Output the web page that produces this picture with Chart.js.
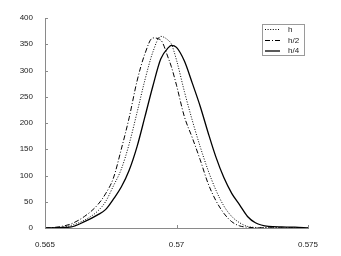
<!DOCTYPE html>
<html>
<head>
<meta charset="utf-8">
<script src="https://cdn.jsdelivr.net/npm/chart.js@4.4.1/dist/chart.umd.min.js"></script>
<style>
  html, body { margin: 0; padding: 0; background: #fff; }
  #wrap { width: 341px; height: 256px; }
</style>
</head>
<body>
<div id="wrap"><canvas id="densityChart" width="341" height="256"></canvas></div>
<script>
// ---- data ----
const xs = [0.565, 0.5655, 0.566, 0.5665, 0.567, 0.5673, 0.5676, 0.5679, 0.5682, 0.5685,
            0.5688, 0.5691, 0.5694, 0.5697, 0.5698, 0.57, 0.5703, 0.5706, 0.5709, 0.5712,
            0.5715, 0.5718, 0.5721, 0.5724, 0.5727, 0.573, 0.5735, 0.574, 0.5745, 0.575];

const hVals  = [0, 1, 5, 15, 32, 50, 80, 112, 160, 220,
                282, 335, 365, 357, 351, 320, 260, 205, 155, 110,
                72, 42, 22, 10, 3, 1, 0.5, 0.5, 0.5, 0];
const h2Vals = [0, 2, 8, 22, 44, 65, 95, 150, 210, 280,
                332, 362, 358, 322, 308, 272, 212, 172, 130, 85,
                52, 28, 12, 4, 1.5, 0.5, 0.3, 0.3, 0.3, 0];
const h4Vals = [0, 0.5, 2, 12, 25, 35, 55, 78, 110, 155,
                212, 270, 322, 344, 348, 344, 318, 276, 232, 182,
                135, 96, 66, 44, 22, 10, 3, 2, 1.5, 0];

const seriesNames = ['h', 'h/2', 'h/4'];
const xTicks = [0.565, 0.57, 0.575];
const yTicks = [0, 50, 100, 150, 200, 250, 300, 350, 400];

// ---- styles ----
const FONT = "'Liberation Sans', Arial, sans-serif";
const AXIS_COLOR = '#8a8a8a';
const lineStyles = [
    { dash: [1, 1.6], width: 1 },
    { dash: [5, 2, 1, 2], width: 1 },
    { dash: [], width: 1.3 }
];

function toPoints(vals) {
    return xs.map((x, i) => ({ x: x, y: vals[i] }));
}

// inward tick marks like the original plot
const innerTicks = {
    id: 'innerTicks',
    afterDraw(chart) {
        const ctx = chart.ctx;
        const xs_ = chart.scales.x, ys_ = chart.scales.y;
        const area = chart.chartArea;
        ctx.save();
        ctx.strokeStyle = AXIS_COLOR;
        ctx.lineWidth = 1;
        ctx.beginPath();
        yTicks.forEach(v => {
            const py = Math.round(ys_.getPixelForValue(v)) + 0.5;
            ctx.moveTo(area.left, py);
            ctx.lineTo(area.left + 3, py);
        });
        xTicks.forEach(v => {
            const px = Math.round(xs_.getPixelForValue(v)) + 0.5;
            ctx.moveTo(px, area.bottom);
            ctx.lineTo(px, area.bottom - 3);
        });
        ctx.stroke();
        ctx.restore();
    }
};

// boxed legend in the top right corner
const boxLegend = {
    id: 'boxLegend',
    afterDraw(chart) {
        const ctx = chart.ctx;
        const bx = 262.5, by = 24.5, bw = 42, bh = 31;
        const rows = [29, 40, 50.5];
        ctx.save();
        ctx.fillStyle = '#fff';
        ctx.fillRect(bx, by, bw, bh);
        ctx.strokeStyle = '#9a9a9a';
        ctx.lineWidth = 1;
        ctx.strokeRect(bx, by, bw, bh);
        seriesNames.forEach((name, i) => {
            ctx.beginPath();
            ctx.strokeStyle = '#000';
            ctx.lineWidth = lineStyles[i].width;
            ctx.setLineDash(lineStyles[i].dash);
            ctx.moveTo(265, rows[i] + 0.5);
            ctx.lineTo(280, rows[i] + 0.5);
            ctx.stroke();
            ctx.setLineDash([]);
            ctx.fillStyle = '#222';
            ctx.font = '8px ' + FONT;
            ctx.textBaseline = 'middle';
            ctx.textAlign = 'left';
            ctx.fillText(name, 288, rows[i] + 0.5);
        });
        ctx.restore();
    }
};

const datasets = [hVals, h2Vals, h4Vals].map((vals, i) => ({
    label: seriesNames[i],
    data: toPoints(vals),
    borderColor: '#000',
    borderWidth: lineStyles[i].width,
    borderDash: lineStyles[i].dash,
    pointRadius: 0,
    fill: false,
    cubicInterpolationMode: 'monotone'
}));

new Chart(document.getElementById('densityChart'), {
    type: 'line',
    data: { datasets: datasets },
    plugins: [innerTicks, boxLegend],
    options: {
        responsive: false,
        animation: false,
        layout: { padding: { top: 18, right: 33, left: 0, bottom: 0 } },
        plugins: { legend: { display: false }, tooltip: { enabled: false } },
        scales: {
            x: {
                type: 'linear',
                min: 0.565,
                max: 0.575,
                afterBuildTicks: s => { s.ticks = xTicks.map(v => ({ value: v })); },
                afterFit: s => { s.height = 28; },
                grid: { display: false },
                border: { display: true, color: AXIS_COLOR, width: 1 },
                ticks: {
                    padding: 4,
                    color: '#222',
                    maxRotation: 0,
                    font: { family: FONT, size: 8 },
                    callback: v => String(+v.toFixed(3))
                }
            },
            y: {
                min: 0,
                max: 400,
                afterBuildTicks: s => { s.ticks = yTicks.map(v => ({ value: v })); },
                afterFit: s => { s.width = 45; },
                grid: { display: false },
                border: { display: true, color: AXIS_COLOR, width: 1 },
                ticks: {
                    padding: 4,
                    color: '#222',
                    font: { family: FONT, size: 8 }
                }
            }
        }
    }
});
</script>
</body>
</html>
